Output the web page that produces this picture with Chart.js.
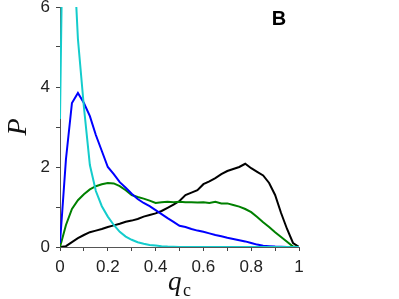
<!DOCTYPE html>
<html>
<head>
<meta charset="utf-8">
<script src="https://cdn.jsdelivr.net/npm/chart.js@4"></script>
<style>
  html, body { margin: 0; padding: 0; background: #fff; }
  #wrap { width: 399px; height: 299px; position: relative; }
</style>
</head>
<body>
<div id="wrap"><canvas id="pChart"></canvas></div>
<script>
// q_c grid (bin positions)
const qc = [0, 0.025, 0.05, 0.075, 0.1, 0.125, 0.15, 0.175, 0.2, 0.225, 0.25, 0.275, 0.3, 0.325, 0.35, 0.375, 0.4, 0.425, 0.45, 0.475, 0.5,
  0.525, 0.55, 0.575, 0.6, 0.625, 0.65, 0.675, 0.7, 0.725, 0.75, 0.775, 0.8, 0.825, 0.85, 0.875, 0.9, 0.925, 0.95, 0.975, 1];

const cyanP = [3.2, 14, 8.2, 5.2, 3.5, 2.05, 1.4, 1.02, 0.76, 0.55, 0.38, 0.26, 0.18, 0.12, 0.08, 0.05, 0.035, 0.02, 0.01, 0.005, 0,
  0, 0, 0, 0, 0, 0, 0, 0, 0, 0, 0, 0, 0, 0, 0, 0, 0, 0, 0, 0];
const blueP = [0.1, 2.2, 3.6, 3.85, 3.6, 3.27, 2.8, 2.4, 2.0, 1.82, 1.62, 1.48, 1.33, 1.2, 1.1, 1.02, 0.92, 0.82, 0.72, 0.63, 0.53,
  0.5, 0.45, 0.41, 0.38, 0.34, 0.3, 0.27, 0.23, 0.2, 0.17, 0.14, 0.1, 0.06, 0.03, 0.02, 0.01, 0.005, 0, 0, 0];
const greenP = [0, 0.55, 0.95, 1.17, 1.32, 1.44, 1.52, 1.57, 1.6, 1.59, 1.52, 1.42, 1.3, 1.25, 1.21, 1.16, 1.1, 1.12, 1.13, 1.12, 1.13,
  1.12, 1.12, 1.11, 1.12, 1.1, 1.13, 1.09, 1.09, 1.05, 1.01, 0.95, 0.87, 0.75, 0.62, 0.5, 0.37, 0.25, 0.13, 0.01, 0];
const blackP = [0, 0.02, 0.12, 0.22, 0.3, 0.37, 0.41, 0.45, 0.5, 0.54, 0.58, 0.63, 0.66, 0.7, 0.76, 0.8, 0.84, 0.9, 0.98, 1.06, 1.15,
  1.3, 1.36, 1.42, 1.57, 1.64, 1.72, 1.82, 1.9, 1.95, 2.0, 2.08, 1.97, 1.88, 1.79, 1.6, 1.3, 0.85, 0.45, 0.1, 0];

const xTickLabels = ['0', '0.2', '0.4', '0.6', '0.8', '1'];
const yTickLabels = ['0', '2', '4', '6'];

function pts(ys) {
  return qc.map((x, i) => ({ x: x, y: ys[i] }));
}

function line(ys, color) {
  return {
    data: pts(ys),
    borderColor: color,
    borderWidth: 2,
    pointRadius: 0,
    tension: 0,
    fill: false
  };
}

// axis title q_c, P and panel letter
const labelsPlugin = {
  id: 'labels',
  afterDraw(chart) {
    const c = chart.ctx;
    c.save();
    c.fillStyle = '#111';
    c.textBaseline = 'alphabetic';
    c.textAlign = 'left';
    c.font = 'italic 27px "Liberation Serif"';
    c.fillText('q', 168, 290);
    c.font = '18px "Liberation Serif"';
    c.fillText('c', 183, 296);

    c.translate(26, 127);
    c.rotate(-Math.PI / 2);
    c.textAlign = 'center';
    c.font = 'italic 28px "Liberation Serif"';
    c.fillText('P', 0, 0);
    c.restore();

    c.save();
    c.fillStyle = '#000';
    c.font = 'bold 20px "Liberation Sans"';
    c.textAlign = 'center';
    c.textBaseline = 'middle';
    c.fillText('B', 279, 19);
    c.restore();
  }
};

const tickFont = { family: '"Liberation Sans", Arial, sans-serif', size: 17 };

new Chart(document.getElementById('pChart'), {
  type: 'line',
  data: {
    datasets: [
      line(cyanP, '#14cccc'),
      line(blueP, '#0000ff'),
      line(greenP, '#008000'),
      line(blackP, '#000000')
    ]
  },
  options: {
    responsive: true,
    maintainAspectRatio: false,
    animation: false,
    layout: { padding: { top: 7, right: 100, left: 0, bottom: 0 } },
    plugins: { legend: { display: false }, tooltip: { enabled: false } },
    scales: {
      x: {
        type: 'linear',
        min: 0,
        max: 1,
        afterFit(s) { s.height = 52; s.paddingLeft = 0; s.paddingRight = 0; },
        border: { display: true, color: '#555', width: 1 },
        grid: { display: true, drawOnChartArea: false, drawTicks: true, tickLength: 4, color: '#444' },
        ticks: {
          stepSize: 0.1,
          autoSkip: false,
          maxRotation: 0,
          padding: 6,
          color: '#222',
          font: tickFont,
          callback(v) {
            const k = Math.round(v * 10);
            return k % 2 === 0 ? xTickLabels[k / 2] : '';
          }
        }
      },
      y: {
        min: 0,
        max: 6,
        afterFit(s) { s.width = 60; s.paddingTop = 0; s.paddingBottom = 0; },
        border: { display: true, color: '#555', width: 1 },
        grid: { display: true, drawOnChartArea: false, drawTicks: true, tickLength: 4, color: '#444' },
        ticks: {
          stepSize: 1,
          autoSkip: false,
          padding: 6,
          color: '#222',
          font: tickFont,
          callback(v) {
            return v % 2 === 0 ? yTickLabels[v / 2] : '';
          }
        }
      }
    }
  },
  plugins: [labelsPlugin]
});
</script>
</body>
</html>
